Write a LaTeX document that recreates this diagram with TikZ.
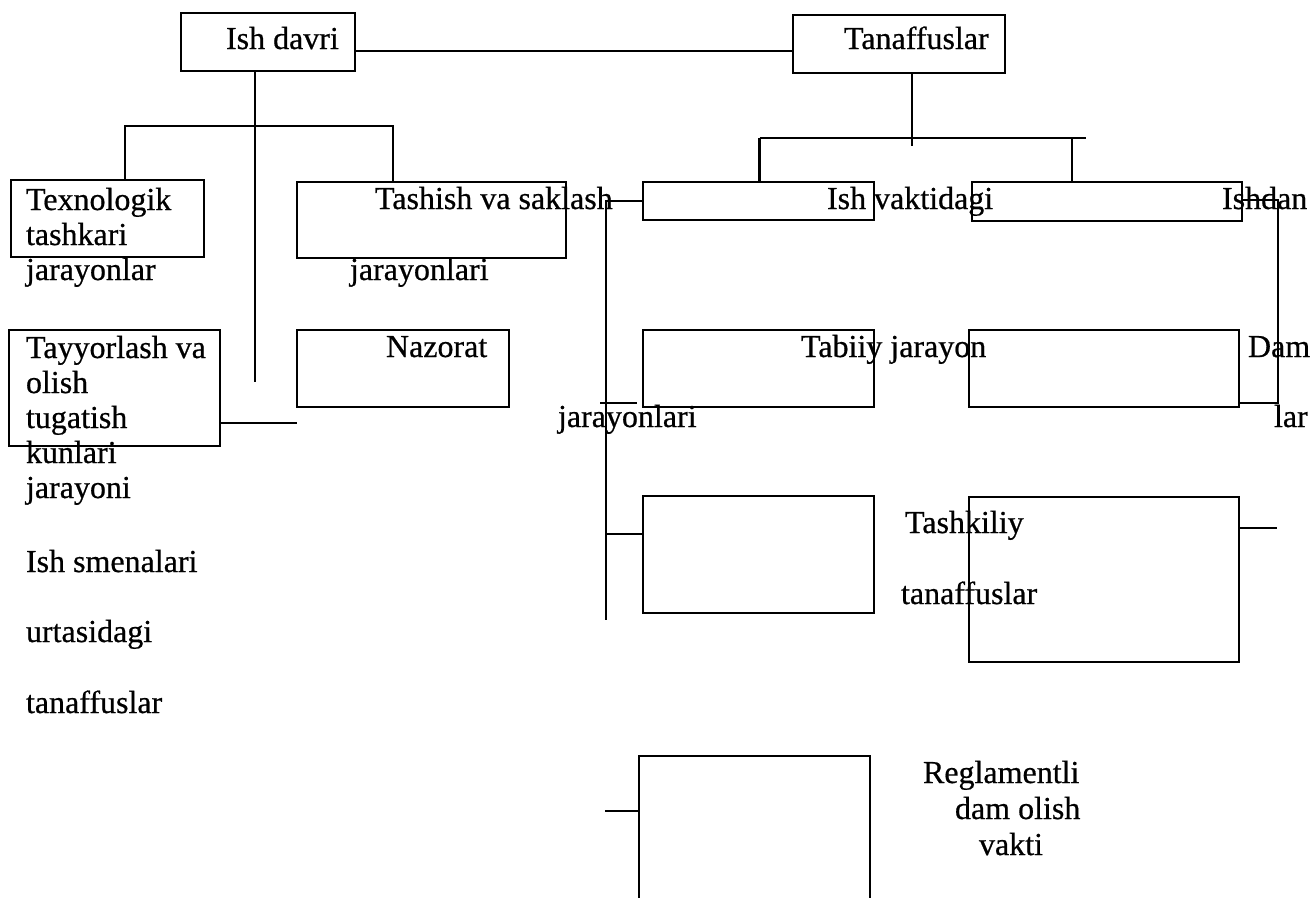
\documentclass[tikz,border=0pt]{standalone}
\usepackage{fontspec}
\setmainfont{Liberation Serif}[FakeBold=0.6]
\begin{document}
\begin{tikzpicture}[x=1pt,y=-1pt,line width=2.8pt,
  box/.style={draw, rectangle, inner sep=0pt, outer sep=0pt, anchor=north west},
  lbl/.style={anchor=base west, inner sep=0pt, outer sep=0pt, font=\fontsize{32}{35}\selectfont}]
\useasboundingbox (0,0) rectangle (1311,897);
\clip (0,0) rectangle (1311,897);

% boxes
\node[box, minimum width=174pt, minimum height=58pt] (ishdavri) at (181,13) {};
\node[box, minimum width=212pt, minimum height=58pt] (tanaffus) at (793,15) {};
\node[box, minimum width=193pt, minimum height=77pt] (texno)    at (11,180) {};
\node[box, minimum width=269pt, minimum height=76pt] (tashish)  at (297,182) {};
\node[box, minimum width=211pt, minimum height=116pt] (tayyor)  at (9,330) {};
\node[box, minimum width=212pt, minimum height=77pt] (nazorat)  at (297,330) {};
\node[box, minimum width=231pt, minimum height=38pt] (ishvakt)  at (643,182) {};
\node[box, minimum width=270pt, minimum height=39pt] (ishdan)   at (972,182) {};
\node[box, minimum width=231pt, minimum height=77pt] (tabiiy)   at (643,330) {};
\node[box, minimum width=270pt, minimum height=77pt] (dam)      at (969,330) {};
\node[box, minimum width=231pt, minimum height=117pt] (tashL)   at (643,496) {};
\node[box, minimum width=270pt, minimum height=165pt] (tashR)   at (969,497) {};
\node[box, minimum width=231pt, minimum height=170pt] (regl)    at (639,756) {};

% free ends
\coordinate (trunkEnd) at (255,382);
\coordinate (tanEnd) at (912,146);
\coordinate (tick) at (600,403);
\coordinate (leftBusEnd) at (606,620);

% labels
\node[lbl] (t1) at (226,49) {Ish davri};
\node[lbl] (t2) at (844,49) {Tanaffuslar};
\node[lbl] (t3) at (26,210) {Texnologik};
\node[lbl] (t4) at (26,245) {tashkari};
\node[lbl] (t5) at (26,280) {jarayonlar};
\node[lbl] (t6) at (375,209) {Tashish va saklash};
\node[lbl] (t7) at (350,280) {jarayonlari};
\node[lbl] (t8) at (26,358) {Tayyorlash va};
\node[lbl] (t9) at (26,393) {olish};
\node[lbl] (t10) at (26,428) {tugatish};
\node[lbl] (t11) at (26,463) {kunlari};
\node[lbl] (t12) at (26,498) {jarayoni};
\node[lbl] (t13) at (26,572) {Ish smenalari};
\node[lbl] (t14) at (26,642) {urtasidagi};
\node[lbl] (t15) at (26,713) {tanaffuslar};
\node[lbl] (t16) at (386,357) {Nazorat};
\node[lbl] (t17) at (827,209) {Ish vaktidagi};
\node[lbl] (t18) at (1222,209) {Ishdan};
\node[lbl] (t19) at (801,357) {Tabiiy jarayon};
\node[lbl] (t20) at (558,427) {jarayonlari};
\node[lbl] (t21) at (1248,357) {Dam};
\node[lbl] (t22) at (1274,427) {lar};
\node[lbl] (t23) at (905,533) {Tashkiliy};
\node[lbl] (t24) at (901,604) {tanaffuslar};
\node[lbl] (t25) at (923,783) {Reglamentli};
\node[lbl] (t26) at (955,819) {dam olish};
\node[lbl] (t27) at (979,855) {vakti};

% connectors, left branch
\draw (ishdavri.east |- 0,51) -- (tanaffus.west |- 0,51);
\draw (ishdavri.south -| trunkEnd) -- (trunkEnd);
\draw (texno.north -| 125,0) -- (125,126) -| (tashish.north -| 393,0);
\draw (tayyor.east |- 0,423) -- (nazorat.west |- 0,423);

% connectors, right branch
\draw (tanaffus.south -| tanEnd) -- (tanEnd);
\draw (759.5,138) -- (1086,138);
\draw (ishvakt.north -| 759.5,0) -- (759.5,138);
\draw (ishdan.north -| 1072,0) -- (1072,138);
\draw (ishvakt.west |- 0,201) -| (leftBusEnd);
\draw (tick) -- ++(37,0);
\draw (tashL.west |- 0,534) -- (606,534);
\draw (regl.west |- 0,811) -- (605,811);
\draw (ishdan.east |- 0,200) -- (1278,200) |- (dam.east |- 0,403);
\draw (tashR.east |- 0,528) -- (1277,528);
\end{tikzpicture}
\end{document}
